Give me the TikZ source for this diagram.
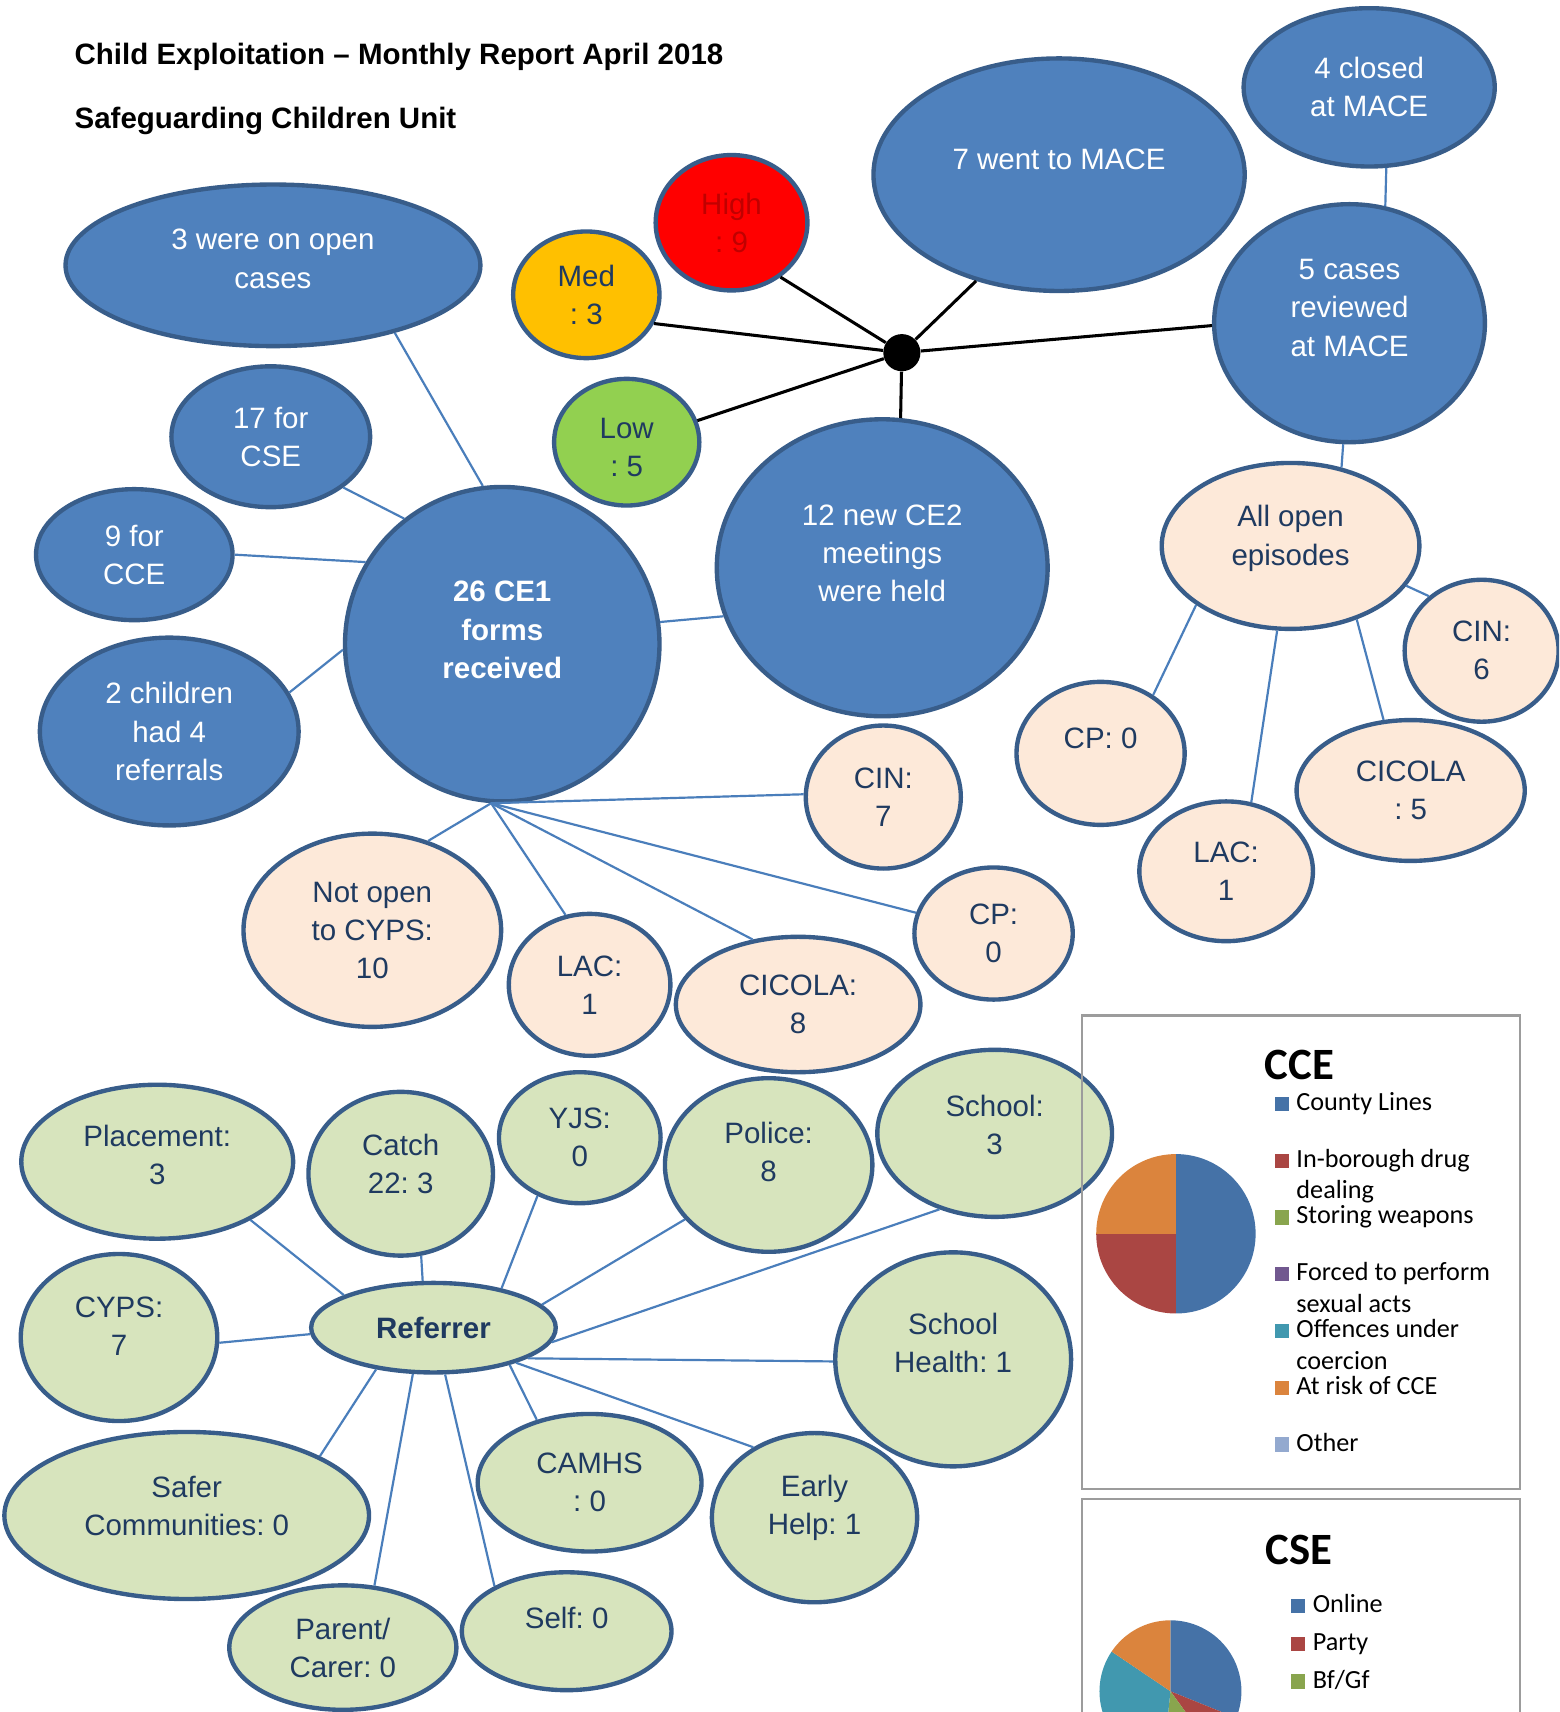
\documentclass[tikz,border=0pt]{standalone}
\usepackage{fontspec}
\setmainfont{Liberation Sans}
\newfontfamily\chartfont{Carlito}
\usetikzlibrary{shapes.geometric}
\definecolor{bubblue}{HTML}{4F81BD}
\definecolor{bubedge}{HTML}{385D8A}
\definecolor{peach}{HTML}{FDE9D9}
\definecolor{sage}{HTML}{D7E4BD}
\definecolor{navytext}{HTML}{1F3A60}
\definecolor{linkblue}{HTML}{4A7EBB}
\definecolor{riskred}{HTML}{FF0000}
\definecolor{riskredtext}{HTML}{C00000}
\definecolor{riskamber}{HTML}{FFC000}
\definecolor{riskgreen}{HTML}{92D050}
\definecolor{boxgray}{HTML}{9C9C9C}
\definecolor{pieblue}{HTML}{4572A7}
\definecolor{piered}{HTML}{AA4643}
\definecolor{piegreen}{HTML}{89A54E}
\definecolor{piepurple}{HTML}{71588F}
\definecolor{pieteal}{HTML}{4198AF}
\definecolor{pieorange}{HTML}{DB843D}
\definecolor{pielight}{HTML}{93A9CF}
\begin{document}
\frenchspacing
\begin{tikzpicture}[x=0.5pt, y=-0.5pt,
    bubble/.style={ellipse, draw=bubedge, line width=2pt, inner sep=0pt, align=center,
      font=\fontsize{13.5}{17.5}\selectfont},
    wh/.style 2 args={minimum width=#1*0.5pt, minimum height=#2*0.5pt},
    bluebub/.style={bubble, fill=bubblue, text=white},
    peachbub/.style={bubble, fill=peach, text=navytext},
    sagebub/.style={bubble, fill=sage, text=navytext},
    bubtext/.style={align=center, inner sep=0pt, font=\fontsize{13.5}{17.5}\selectfont},
    link/.style={draw=linkblue, line width=1pt},
    spoke/.style={draw=black, line width=1.4pt},
    keysq/.style={fill=#1, minimum size=6.5pt, inner sep=0pt},
    keytext/.style={anchor=west, inner sep=0pt, text height=8.5pt, text depth=2.5pt,
      font=\chartfont\fontsize{12}{14.5}\selectfont},
    charttitle/.style={font=\chartfont\bfseries\fontsize{20.5}{24}\selectfont},
    heading/.style={anchor=west, inner sep=0pt, font=\bfseries\fontsize{13.5}{16}\selectfont}]
  \useasboundingbox (0,0) rectangle (1428,1568);
  \fill[white] (0,0) rectangle (1428,1568);
  \clip (0,0) rectangle (1428,1568);

  \node[heading] (title) at (68,52) {Child Exploitation – Monthly Report April 2018};
  \node[heading] (unit) at (68,111) {Safeguarding Children Unit};

  % forms, meetings and MACE
  \draw
    (250,243) node[bluebub, wh={380}{148}] (open3) {}
    (248,400) node[bluebub, wh={182}{129}] (cse17) {17 for\\CSE}
    (123,508) node[bluebub, wh={180}{120}] (cce9) {9 for\\CCE}
    (155,670) node[bluebub, wh={237}{172}] (twokids) {2 children\\had 4\\referrals}
    (460,590) node[bluebub, wh={288}{288}] (ce1) {}
    (808,520) node[bluebub, wh={303}{272}] (ce2) {}
    (970,160) node[bluebub, wh={340}{213}] (mace7) {}
    (1254,80) node[bluebub, wh={230}{145}] (closed4) {4 closed\\at MACE}
    (1236,296) node[bluebub, wh={248}{218}] (review5) {};
  \node[bubtext, text=white] (open3txt) at (250,237) {3 were on open\\cases};
  \node[bubtext, text=white, font=\bfseries\fontsize{13.5}{17.5}\selectfont] (ce1txt) at (460,577) {26 CE1\\forms\\received};
  \node[bubtext, text=white] (ce2txt) at (808,507) {12 new CE2\\meetings\\were held};
  \node[bubtext, text=white] (mace7txt) at (970,146) {7 went to MACE};
  \node[bubtext, text=white] (review5txt) at (1236,282) {5 cases\\reviewed\\at MACE};

  % risk levels
  \draw
    (670,204) node[bubble, fill=riskred, text=riskredtext, wh={139}{124}] (high) {High\\: 9}
    (537,270) node[bubble, fill=riskamber, text=navytext, wh={134}{116}] (med) {Med\\: 3}
    (574,405) node[bubble, fill=riskgreen, text=navytext, wh={133}{116}] (low) {}
    (826,323) node[circle, fill=black, minimum size=17pt, inner sep=0pt] (hub) {};
  \node[bubtext, text=navytext] (lowtxt) at (574,410) {Low\\: 5};

  % open episodes
  \draw
    (1182,500) node[peachbub, wh={236}{152}] (allopen) {}
    (1357,596) node[peachbub, wh={141}{130}] (cin6) {CIN:\\6}
    (1008,690) node[peachbub, wh={154}{131}] (cp0r) {}
    (1123,798) node[peachbub, wh={159}{128}] (lac1r) {LAC:\\1}
    (1292,724) node[peachbub, wh={209}{129}] (cicola5) {CICOLA\\: 5}
    (341,852) node[peachbub, wh={236}{177}] (notopen) {Not open\\to CYPS:\\10}
    (540,902) node[peachbub, wh={148}{130}] (lac1) {LAC:\\1}
    (731,920) node[peachbub, wh={224}{124}] (cicola8) {CICOLA:\\8}
    (910,855) node[peachbub, wh={145}{121}] (cp0) {CP:\\0}
    (809,730) node[peachbub, wh={142}{131}] (cin7) {CIN:\\7};
  \node[bubtext, text=navytext] (allopentxt) at (1182,493) {All open\\episodes};
  \node[bubtext, text=navytext] (cp0rtxt) at (1008,676) {CP: 0};

  % referrers
  \draw
    (397,1216) node[sagebub, wh={224}{82}, font=\bfseries\fontsize{13.5}{17.5}\selectfont] (referrer) {Referrer}
    (144,1064) node[sagebub, wh={249}{141}] (placement) {}
    (367,1075) node[sagebub, wh={169}{150}] (catch22) {}
    (531,1042) node[sagebub, wh={148}{120}] (yjs) {YJS:\\0}
    (704,1067) node[sagebub, wh={190}{159}] (police) {}
    (911,1038) node[sagebub, wh={215}{153}] (school) {}
    (109,1225) node[sagebub, wh={180}{153}] (cyps) {}
    (873,1245) node[sagebub, wh={216}{196}] (schoolhealth) {}
    (171,1388) node[sagebub, wh={334}{153}] (safer) {}
    (540,1358) node[sagebub, wh={205}{126}] (camhs) {CAMHS\\: 0}
    (746,1390) node[sagebub, wh={188}{155}] (earlyhelp) {}
    (314,1509) node[sagebub, wh={208}{114}] (parent) {Parent/\\Carer: 0}
    (519,1494) node[sagebub, wh={192}{108}] (self) {};
  \node[bubtext, text=navytext] (placementtxt) at (144,1058) {Placement:\\3};
  \node[bubtext, text=navytext] (catch22txt) at (367,1066) {Catch\\22: 3};
  \node[bubtext, text=navytext] (policetxt) at (704,1055) {Police:\\8};
  \node[bubtext, text=navytext] (schooltxt) at (911,1030) {School:\\3};
  \node[bubtext, text=navytext] (cypstxt) at (109,1215) {CYPS:\\7};
  \node[bubtext, text=navytext] (schoolhealthtxt) at (873,1230) {School\\Health: 1};
  \node[bubtext, text=navytext] (safertxt) at (171,1379) {Safer\\Communities: 0};
  \node[bubtext, text=navytext] (earlyhelptxt) at (746,1381) {Early\\Help: 1};
  \node[bubtext, text=navytext] (selftxt) at (519,1482) {Self: 0};

  \coordinate (ce1foot) at (ce1.266);
  \begin{scope}[spoke]
    \draw (hub) to (high.-48);
    \draw (hub) to (med.-23);
    \draw (hub) to (low.17);
    \draw (hub) to (mace7.232);
    \draw (hub) to (review5.181);
    \draw (hub) to (ce2.83);
  \end{scope}
  \begin{scope}[link]
    \draw (open3.-29) to (ce1.97);
    \draw (cse17.-35) to (ce1.128);
    \draw (cce9.east) to (ce1.149);
    \draw (twokids.18) to (ce1.182);
    \draw (ce1.8) to (ce2.197);
    \draw (closed4.-78) to (review5.73);
    \draw (review5.-93) to (allopen.57);
    \draw (allopen.-19) to (cin6.134);
    \draw (allopen.212) to (cp0r.48);
    \draw (allopen.261) to (lac1r.70);
    \draw (allopen.-48) to (cicola5.111);
    \draw (ce1foot) to (cin7.178);
    \draw (ce1foot) to (cp0.165);
    \draw (ce1foot) to (cicola8.125);
    \draw (ce1foot) to (lac1.109);
    \draw (ce1foot) to (notopen.58);
    \draw (referrer.160) to (placement.-32);
    \draw (referrer.103) to (catch22.-76);
    \draw (referrer.30) to (yjs.234);
    \draw (referrer.12) to (police.213);
    \draw (referrer.-7) to (school.234);
    \draw (referrer.183) to (cyps.-3);
    \draw (referrer.-18) to (schoolhealth.181);
    \draw (referrer.216) to (safer.24);
    \draw (referrer.246) to (parent.63);
    \draw (referrer.284) to (self.148);
    \draw (referrer.-26) to (camhs.130);
    \draw (referrer.-23) to (earlyhelp.131);
  \end{scope}

  % CCE chart
  \draw[boxgray, line width=1pt] (991,930) rectangle (1392,1364);
  \node[charttitle] (ccetitle) at (1190,975) {CCE};
  \begin{scope}[shift={(1077,1130)}, x=0.5pt, y=0.5pt]
    \fill[pieblue] (0,0) -- (90:73) arc[start angle=90, end angle=-90, radius=73] -- cycle;
    \fill[piered] (0,0) -- (-90:73) arc[start angle=-90, end angle=-180, radius=73] -- cycle;
    \fill[pieorange] (0,0) -- (180:73) arc[start angle=180, end angle=90, radius=73] -- cycle;
  \end{scope}
  \foreach \ly/\lc/\lt in {1011/pieblue/County Lines, 1063/piered/In-borough drug,
      1115/piegreen/Storing weapons, 1167/piepurple/Forced to perform,
      1219/pieteal/Offences under, 1271/pieorange/At risk of CCE, 1323/pielight/Other} {
    \node[keysq=\lc] (ccesq\ly) at (1174,\ly) {};
    \node[keytext] (ccekey\ly) at (1187,\ly) {\lt};
  }
  \foreach \ly/\lt in {1092/dealing, 1196/sexual acts, 1248/coercion}
    \node[keytext] (ccekey\ly) at (1187,\ly) {\lt};

  % CSE chart
  \draw[boxgray, line width=1pt] (991,1373) rectangle (1392,1640);
  \node[charttitle] (csetitle) at (1190,1420) {CSE};
  \begin{scope}[shift={(1072,1549)}, x=0.5pt, y=0.5pt]
    \fill[pieblue] (0,0) -- (90:65) arc[start angle=90, end angle=-22, radius=65] -- cycle;
    \fill[piered] (0,0) -- (-22:65) arc[start angle=-22, end angle=-54, radius=65] -- cycle;
    \fill[piegreen] (0,0) -- (-54:65) arc[start angle=-54, end angle=-96, radius=65] -- cycle;
    \fill[pieteal] (0,0) -- (-96:65) arc[start angle=-96, end angle=-214, radius=65] -- cycle;
    \fill[pieorange] (0,0) -- (146:65) arc[start angle=146, end angle=90, radius=65] -- cycle;
  \end{scope}
  \foreach \ly/\lc/\lt in {1471/pieblue/Online, 1506/piered/Party, 1540/piegreen/{Bf/Gf}} {
    \node[keysq=\lc] (csesq\ly) at (1189,\ly) {};
    \node[keytext] (csekey\ly) at (1202,\ly) {\lt};
  }
\end{tikzpicture}
\end{document}
